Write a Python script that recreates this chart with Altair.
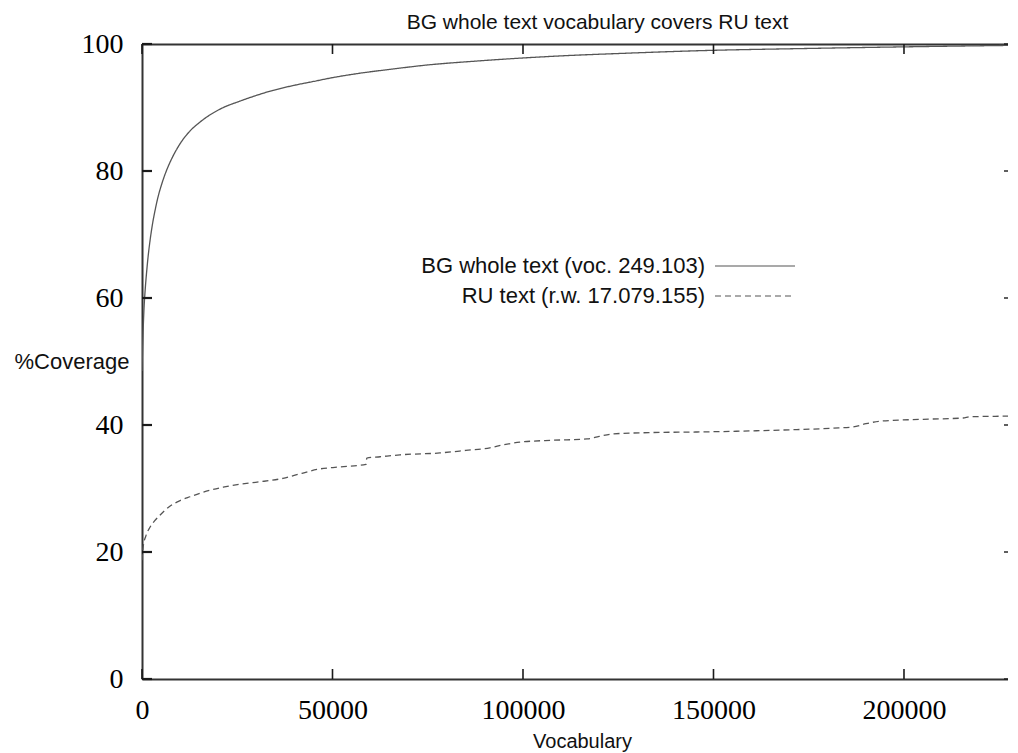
import altair as alt
import pandas as pd

# ---- data ----
bg_vocab = [0, 200, 500, 800, 1200, 1600, 2100, 2800, 3500, 4200, 5000, 6000, 7000, 8100,
            10000, 12600, 15000, 17000, 21000, 25700, 30000, 34400, 40000, 45000, 50000,
            57200, 65000, 75000, 87500, 100000, 112500, 125000, 146500, 175000, 200000, 230000]
bg_cov = [48.5, 53.0, 58.0, 61.0, 64.0, 66.5, 69.0, 71.8, 74.0, 75.9, 77.6, 79.4, 80.9, 82.3,
          84.3, 86.3, 87.6, 88.5, 89.9, 91.0, 91.9, 92.7, 93.5, 94.1, 94.7,
          95.4, 96.0, 96.7, 97.3, 97.8, 98.2, 98.5, 98.95, 99.3, 99.55, 99.8]

ru_vocab = [0, 300, 1000, 2100, 3300, 4700, 7300, 10000, 12600, 16000, 21300, 25000,
            30200, 37000, 42000, 45900, 52000, 58800, 59000, 62500, 67700, 78200,
            85000, 91300, 95000, 99200, 108000, 116800, 120000, 123600, 133000, 145700,
            155000, 167500, 181400, 186600, 190000, 193700, 205000, 215500, 217300, 230000]
ru_cov = [18.7, 20.8, 22.5, 23.9, 24.9, 25.8, 27.2, 28.1, 28.7, 29.4, 30.2, 30.6,
          31.0, 31.6, 32.4, 33.0, 33.4, 33.8, 34.8, 35.0, 35.3, 35.6,
          36.0, 36.4, 36.9, 37.3, 37.6, 37.8, 38.2, 38.6, 38.8, 38.9,
          39.0, 39.2, 39.5, 39.7, 40.2, 40.6, 40.9, 41.1, 41.3, 41.4]

series_names = ["BG whole text (voc. 249.103)", "RU text (r.w. 17.079.155)"]
x_ticks = [0, 50000, 100000, 150000, 200000]
y_ticks = [0, 20, 40, 60, 80, 100]
chart_title = "BG whole text vocabulary covers RU text"

df = pd.concat([
    pd.DataFrame({"vocab": bg_vocab, "cov": bg_cov, "series": series_names[0]}),
    pd.DataFrame({"vocab": ru_vocab, "cov": ru_cov, "series": series_names[1]}),
], ignore_index=True)
df_xt = pd.DataFrame({"t": x_ticks})
df_yt = pd.DataFrame({"t": y_ticks})

W, H = 866, 635
FRAME = "#333333"
TICK = "#1a1a1a"
xscale = alt.Scale(domain=[0, 227300], nice=False, zero=False)
yscale = alt.Scale(domain=[0, 100], nice=False)

lines = alt.Chart(df).mark_line(color="#555555", strokeWidth=1.3, clip=True,
                                interpolate="monotone").encode(
    x=alt.X("vocab:Q", scale=xscale,
            axis=alt.Axis(orient="bottom", values=x_ticks, format="d", title="Vocabulary",
                          ticks=False, tickSize=0,
                          domain=True, domainColor=FRAME, domainWidth=2,
                          grid=False, labelFlush=False, labelOverlap=False,
                          labelFont="Liberation Serif", labelFontSize=28, labelColor="#000000",
                          labelPadding=17,
                          titleFont="Liberation Sans", titleFontSize=20, titleFontWeight="normal",
                          titleColor="#111111", titleX=440, titleY=62, titleBaseline="middle")),
    y=alt.Y("cov:Q", scale=yscale,
            axis=alt.Axis(orient="left", values=y_ticks, title="%Coverage",
                          ticks=False, tickSize=0,
                          domain=True, domainColor=FRAME, domainWidth=2,
                          grid=False, labelFlush=False, labelOverlap=False,
                          labelFont="Liberation Serif", labelFontSize=28, labelColor="#000000",
                          labelPadding=19,
                          titleFont="Liberation Sans", titleFontSize=22, titleFontWeight="normal",
                          titleColor="#111111", titleAngle=0, titleAlign="left",
                          titleX=-128, titleY=317, titleBaseline="middle")),
    strokeDash=alt.StrokeDash("series:N",
                              scale=alt.Scale(domain=series_names, range=[[1, 0], [6, 4]]),
                              legend=alt.Legend(orient="none", legendX=602, legendY=211, title=None,
                                                symbolType="M-4,0H4", symbolSize=400,
                                                symbolStrokeWidth=1.2, symbolStrokeColor="#555555",
                                                labelAlign="right", labelOffset={"expr": "-61"},
                                                labelFont="Liberation Sans", labelFontSize=22,
                                                labelColor="#111111", labelLimit=400,
                                                rowPadding=8, padding=0)),
)

# top border carrying the chart title
frame_top = alt.Chart(df).mark_line(strokeOpacity=0).encode(
    x=alt.X("vocab:Q", scale=xscale,
            axis=alt.Axis(orient="bottom", offset=-H, values=x_ticks, labels=False, domain=True,
                          domainColor=FRAME, domainWidth=2, ticks=False, grid=False,
                          title=chart_title, titleFont="Liberation Sans", titleFontSize=21,
                          titleFontWeight="normal", titleColor="#111111",
                          titleX=455, titleY=-16, titleAlign="center",
                          titleBaseline="alphabetic")),
    y=alt.Y("cov:Q", scale=yscale, axis=None),
)

# inward tick marks (gnuplot style) at the tick values, through the scales
xt_bottom = alt.Chart(df_xt).mark_rule(color=TICK, strokeWidth=1.6).encode(
    x=alt.X("t:Q", scale=xscale, axis=None), y=alt.value(H), y2=alt.value(H - 10))
xt_top = alt.Chart(df_xt).mark_rule(color=TICK, strokeWidth=1.6).encode(
    x=alt.X("t:Q", scale=xscale, axis=None), y=alt.value(0), y2=alt.value(10))
yt_left = alt.Chart(df_yt).mark_rule(color=TICK, strokeWidth=2.2).encode(
    y=alt.Y("t:Q", scale=yscale, axis=None), x=alt.value(0), x2=alt.value(10))
yt_right = alt.Chart(df_yt).mark_rule(color=TICK, strokeWidth=1.4).encode(
    y=alt.Y("t:Q", scale=yscale, axis=None), x=alt.value(W - 4), x2=alt.value(W))

chart = alt.layer(lines, frame_top, xt_bottom, xt_top, yt_left, yt_right).resolve_axis(
    x="independent", y="independent"
).properties(
    width=W, height=H,
    autosize=alt.AutoSizeParams(type="none"),
    padding={"left": 134, "top": 36, "right": 0, "bottom": 74},
).configure_view(strokeWidth=0)

chart.save("out.html", embed_options={"renderer": "svg", "actions": False})
